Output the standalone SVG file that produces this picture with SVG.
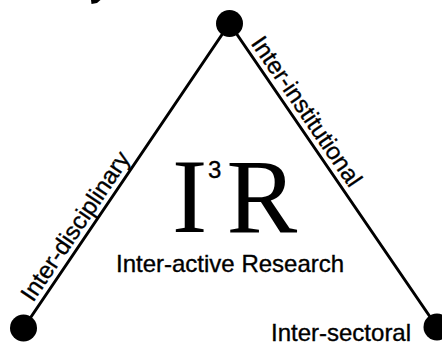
<svg xmlns="http://www.w3.org/2000/svg" width="442" height="345" viewBox="0 0 442 345">
<style>
.sans{font-family:"Liberation Sans",Arial,sans-serif;font-size:24px;fill:#000;stroke:#000;stroke-width:0.35}
.serif{font-family:"Liberation Serif","Times New Roman",serif;font-size:106px;fill:#000}
.edge{stroke:#000;stroke-width:3;fill:none;stroke-linecap:round}
.dot{fill:#000}
</style>
<rect width="442" height="345" fill="#fff"/>
<path d="M91,0 L100.5,0 L97,3 L91.5,4 Z" fill="#000"/>
<g id="connectors">
<line class="edge" x1="229.5" y1="23.5" x2="23.5" y2="328"/>
<line class="edge" x1="229.5" y1="23.5" x2="437" y2="327"/>
<text class="sans" transform="translate(33.1,303.1) rotate(-55.9)">Inter-disciplinary</text>
<text class="sans" transform="translate(250.3,43.2) rotate(55.64)">Inter-institutional</text>
</g>
<g id="node-top"><circle class="dot" cx="229.5" cy="23.5" r="13.5"/></g>
<g id="node-left"><circle class="dot" cx="23.5" cy="328" r="13.5"/></g>
<g id="node-right"><circle class="dot" cx="437" cy="327" r="13.5"/><text class="sans" x="271" y="341">Inter-sectoral</text></g>
<g id="center">
<text class="serif" x="172" y="232">I</text>
<text class="sans" x="208" y="178">3</text>
<text class="serif" x="226.5" y="232">R</text>
<text class="sans" x="116" y="272">Inter-active Research</text>
</g>
</svg>
